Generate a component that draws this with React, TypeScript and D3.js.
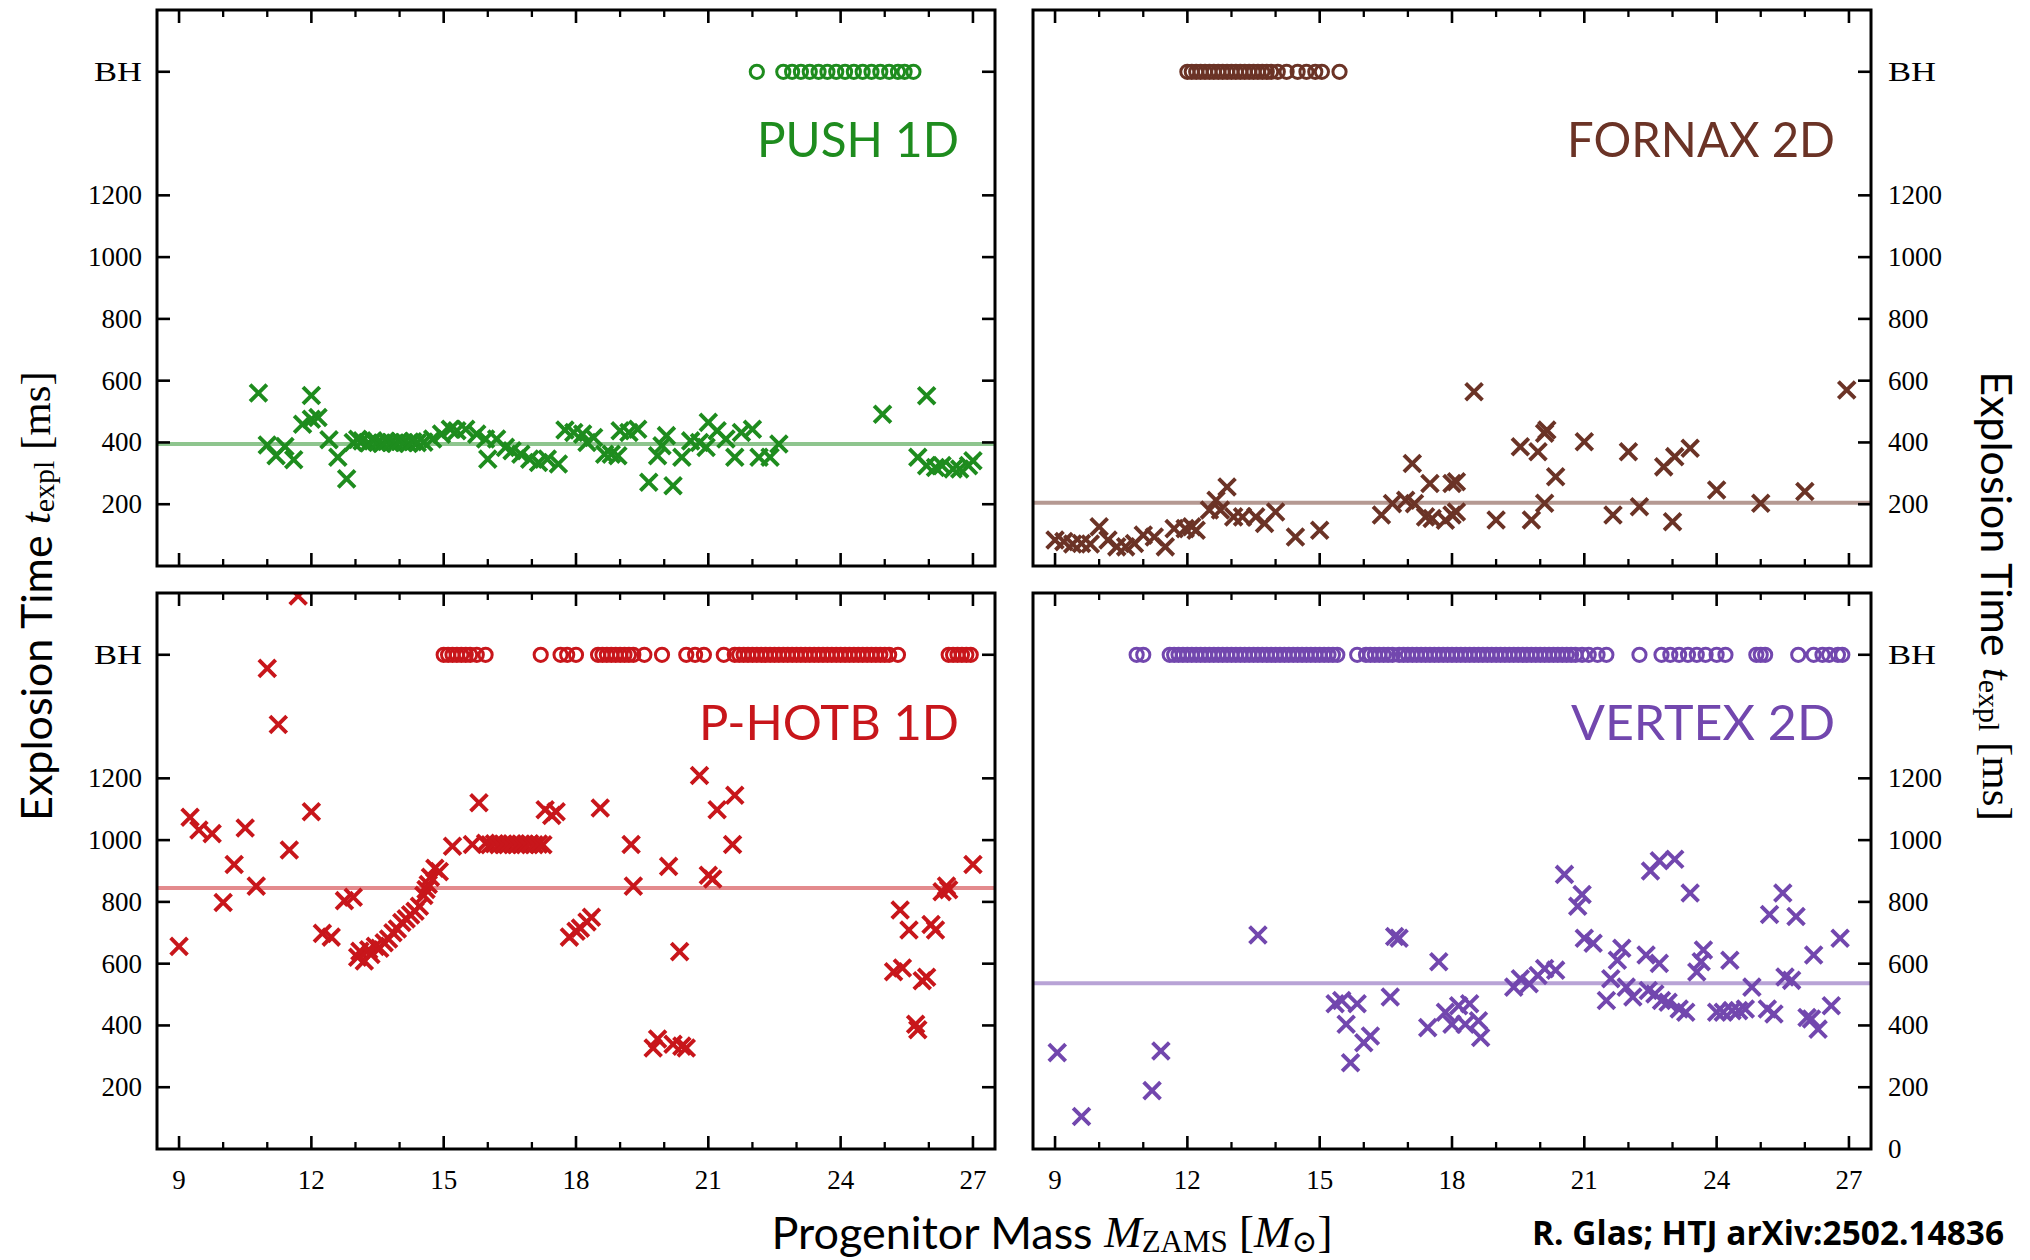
import React from 'react';
import * as d3 from 'd3';

// ---- layout --------------------------------------------------------------
const W = 2030;
const H = 1260;
const PW = 838;
const PH = 556;
const COL_X = [157, 1033];
const ROW_Y = [10, 593];

// ---- axes ----------------------------------------------------------------
const massDomain = [8.5, 27.5];
const timeDomain = [0, 1800];
const massMajor = [9, 12, 15, 18, 21, 24, 27];
const massMinor = [10, 11, 13, 14, 16, 17, 19, 20, 22, 23, 25, 26];
const timeTicks = [200, 400, 600, 800, 1000, 1200];
const BH_LEVEL = 1600;

// ---- colours -------------------------------------------------------------
const GREEN = '#1e8c1e';
const BROWN = '#6b3326';
const RED = '#c8161b';
const PURPLE = '#7247ae';

// ---- PUSH 1D -------------------------------------------------------------
const pushExploded: [number, number][] = [
  [10.8, 560], [11.0, 392], [11.2, 357], [11.4, 387], [11.6, 344], [11.8, 459],
  [12.0, 552], [12.0, 475], [12.15, 481], [12.4, 409], [12.6, 352], [12.8, 282],
  [12.95, 400], [13.05, 410], [13.15, 405], [13.3, 398], [13.4, 405], [13.5, 400],
  [13.6, 397], [13.7, 403], [13.8, 400], [13.9, 398], [14.0, 404], [14.1, 400],
  [14.2, 397], [14.3, 402], [14.4, 399], [14.55, 401], [14.75, 411], [14.95, 427],
  [15.15, 443], [15.3, 438], [15.5, 443], [15.75, 427], [15.95, 411], [16.0, 346],
  [16.2, 411], [16.4, 384], [16.55, 373], [16.75, 362], [16.95, 346], [17.15, 335],
  [17.35, 346], [17.6, 330], [17.75, 440], [17.95, 432], [18.15, 427], [18.25, 400],
  [18.4, 416], [18.65, 362], [18.8, 362], [18.95, 357], [19.0, 438], [19.2, 432],
  [19.4, 443], [19.65, 271], [19.85, 357], [19.95, 389], [20.05, 422], [20.2, 260],
  [20.4, 352], [20.6, 405], [20.8, 400], [20.95, 384], [21.0, 465], [21.2, 438],
  [21.4, 411], [21.6, 352], [21.75, 432], [22.0, 443], [22.15, 352], [22.4, 352],
  [22.6, 395], [24.95, 491], [25.95, 551], [25.75, 352], [25.95, 325], [26.15, 319],
  [26.3, 325], [26.55, 314], [26.7, 314], [26.9, 325], [27.0, 341],
];
const pushBH = [
  22.1, 22.7, 22.9, 23.1, 23.3, 23.5, 23.7, 23.9, 24.1, 24.3, 24.5, 24.7, 24.9,
  25.1, 25.3, 25.45, 25.65,
];
const pushMean = 395;

// ---- FORNAX 2D -----------------------------------------------------------
const fornaxExploded: [number, number][] = [
  [9.0, 84], [9.2, 79], [9.4, 71], [9.6, 73], [9.8, 71], [10.0, 127], [10.2, 84],
  [10.4, 62], [10.6, 62], [10.8, 73], [11.0, 100], [11.25, 94], [11.5, 62],
  [11.7, 121], [11.95, 121], [12.1, 127], [12.2, 116], [12.5, 181], [12.65, 213],
  [12.75, 181], [12.9, 256], [13.05, 159], [13.25, 159], [13.55, 159], [13.75, 138],
  [14.0, 175], [14.45, 94], [15.0, 116], [16.4, 165], [16.65, 202], [16.95, 213],
  [17.1, 332], [17.15, 202], [17.4, 159], [17.5, 267], [17.55, 154], [17.85, 148],
  [18.0, 267], [18.0, 165], [18.1, 273], [18.1, 175], [18.5, 564], [19.0, 149],
  [19.55, 386], [19.8, 149], [19.95, 370], [20.1, 203], [20.1, 430], [20.15, 440],
  [20.35, 289], [21.0, 402], [21.65, 165], [22.0, 370], [22.25, 192], [22.8, 321],
  [23.0, 143], [23.05, 354], [23.4, 381], [24.0, 246], [25.0, 203], [26.0, 241],
  [26.95, 570],
];
const fornaxBH = [
  12.0, 12.1, 12.2, 12.3, 12.4, 12.5, 12.6, 12.7, 12.8, 12.9, 13.0, 13.1, 13.2,
  13.3, 13.4, 13.5, 13.6, 13.7, 13.8, 13.9, 14.05, 14.25, 14.5, 14.7, 14.9, 15.05,
  15.45,
];
const fornaxMean = 205;

// ---- P-HOTB 1D -----------------------------------------------------------
const photbExploded: [number, number][] = [
  [9.0, 656], [9.25, 1074], [9.45, 1033], [9.75, 1021], [10.0, 798], [10.25, 921],
  [10.5, 1039], [10.75, 851], [11.0, 1556], [11.25, 1374], [11.5, 968], [11.7, 1790],
  [12.0, 1092], [12.25, 698], [12.45, 686], [12.75, 804], [12.95, 815],
  [13.05, 621], [13.1, 640], [13.2, 609], [13.3, 645], [13.35, 630], [13.45, 656],
  [13.55, 650], [13.65, 668], [13.75, 680], [13.85, 700], [13.95, 712], [14.05, 733],
  [14.15, 745], [14.25, 758], [14.35, 770], [14.45, 786], [14.55, 821], [14.6, 840],
  [14.65, 856], [14.7, 880], [14.8, 909], [14.9, 898],
  [15.2, 980], [15.65, 986], [15.8, 1121],
  [15.95, 990], [16.05, 985], [16.15, 988], [16.25, 985], [16.35, 987], [16.45, 985],
  [16.55, 988], [16.65, 985], [16.75, 987], [16.85, 985], [16.95, 988], [17.05, 985],
  [17.15, 987], [17.25, 985],
  [17.3, 1098], [17.45, 1080], [17.55, 1092],
  [17.85, 686], [18.0, 705], [18.1, 715], [18.25, 735], [18.35, 750], [18.55, 1104],
  [19.25, 986], [19.3, 851], [19.75, 327], [19.85, 356], [20.1, 915], [20.2, 339],
  [20.35, 639], [20.4, 333], [20.5, 327], [20.8, 1209], [21.0, 886], [21.1, 874],
  [21.2, 1098], [21.55, 986], [21.6, 1145],
  [25.2, 574], [25.35, 774], [25.4, 586], [25.55, 709], [25.7, 404], [25.75, 386],
  [25.85, 545], [25.95, 556], [26.05, 727], [26.15, 709], [26.3, 833], [26.4, 851],
  [26.45, 839], [27.0, 921],
];
const photbBH = [
  15.0, 15.1, 15.2, 15.3, 15.4, 15.5, 15.6, 15.75, 15.95,
  17.2, 17.65, 17.8, 18.0,
  18.5, 18.6, 18.7, 18.8, 18.9, 19.0, 19.1, 19.2, 19.3, 19.55, 19.95,
  20.5, 20.7, 20.9, 21.35,
  21.6, 21.7, 21.8, 21.9, 22.0, 22.1, 22.2, 22.3, 22.4, 22.5, 22.6, 22.7, 22.8,
  22.9, 23.0, 23.1, 23.2, 23.3, 23.4, 23.5, 23.6, 23.7, 23.8, 23.9, 24.0, 24.1,
  24.2, 24.3, 24.4, 24.5, 24.6, 24.7, 24.8, 24.9, 25.0, 25.1, 25.3,
  26.45, 26.55, 26.65, 26.75, 26.85, 26.95,
];
const photbMean = 845;

// ---- VERTEX 2D -----------------------------------------------------------
const vertexExploded: [number, number][] = [
  [9.05, 312], [9.6, 105], [11.2, 189], [11.4, 317], [13.6, 693], [15.35, 470],
  [15.5, 481], [15.6, 404], [15.7, 279], [15.85, 470], [16.0, 344], [16.15, 366],
  [16.6, 492], [16.7, 688], [16.8, 682], [17.45, 393], [17.7, 606], [17.85, 443],
  [18.0, 404], [18.15, 464], [18.3, 404], [18.4, 470], [18.6, 415], [18.65, 361],
  [19.4, 524], [19.55, 551], [19.75, 535], [19.95, 562], [20.1, 584], [20.35, 579],
  [20.55, 889], [20.85, 786], [20.95, 824], [21.0, 682], [21.2, 666], [21.5, 481],
  [21.6, 551], [21.75, 611], [21.85, 650], [21.95, 524], [22.1, 492], [22.4, 628],
  [22.45, 513], [22.5, 900], [22.6, 502], [22.7, 601], [22.7, 933], [22.75, 481],
  [22.9, 475], [23.05, 938], [23.15, 453], [23.3, 443], [23.4, 829], [23.55, 573],
  [23.65, 606], [23.7, 644], [24.0, 443], [24.15, 443], [24.3, 611], [24.35, 448],
  [24.5, 448], [24.65, 453], [24.8, 524], [25.15, 453], [25.2, 759], [25.3, 437],
  [25.5, 829], [25.55, 557], [25.7, 546], [25.8, 753], [26.05, 426], [26.15, 421],
  [26.2, 628], [26.3, 388], [26.6, 464], [26.8, 682],
];
const vertexBH = [
  10.85, 11.0,
  11.6, 11.7, 11.8, 11.9, 12.0, 12.1, 12.2, 12.3, 12.4, 12.5, 12.6, 12.7, 12.8,
  12.9, 13.0, 13.1, 13.2, 13.3, 13.4, 13.5, 13.6, 13.7, 13.8, 13.9, 14.0, 14.1,
  14.2, 14.3, 14.4, 14.5, 14.6, 14.7, 14.8, 14.9, 15.0, 15.1, 15.2, 15.3, 15.4,
  15.85, 16.05, 16.15, 16.25, 16.35, 16.45, 16.55, 16.65,
  16.8, 16.9, 17.0, 17.1, 17.2, 17.3, 17.4, 17.5, 17.6, 17.7, 17.8, 17.9, 18.0,
  18.1, 18.2, 18.3, 18.4, 18.5, 18.6, 18.7, 18.8, 18.9, 19.0, 19.1, 19.2, 19.3,
  19.4, 19.5, 19.6, 19.7, 19.8, 19.9, 20.0, 20.1, 20.2, 20.3, 20.4, 20.5, 20.6,
  20.7, 20.8,
  20.95, 21.1, 21.3, 21.5, 22.25, 22.75, 22.95, 23.15, 23.35, 23.55, 23.75, 24.0,
  24.2, 24.9, 25.0, 25.1, 25.85, 26.2, 26.4, 26.55, 26.75, 26.85,
];
const vertexMean = 537;

// ---- panel table ---------------------------------------------------------
const panels = [
  { key: 'push', label: 'PUSH 1D', color: GREEN, exploded: pushExploded, bh: pushBH, mean: pushMean, col: 0, row: 0, labelWidth: 202, showZero: false },
  { key: 'fornax', label: 'FORNAX 2D', color: BROWN, exploded: fornaxExploded, bh: fornaxBH, mean: fornaxMean, col: 1, row: 0, labelWidth: 268, showZero: false },
  { key: 'photb', label: 'P-HOTB 1D', color: RED, exploded: photbExploded, bh: photbBH, mean: photbMean, col: 0, row: 1, labelWidth: 260, showZero: false },
  { key: 'vertex', label: 'VERTEX 2D', color: PURPLE, exploded: vertexExploded, bh: vertexBH, mean: vertexMean, col: 1, row: 1, labelWidth: 264, showZero: true },
];

const SERIF = "'Liberation Serif', 'DejaVu Serif', serif";
const SANS = "Lato, 'Open Sans', 'DejaVu Sans', sans-serif";
const TICK_FONT = 27;
const MAJOR = 13;
const MINOR = 7;
const CROSS = 8.4;

function Panel({ p }: { p: typeof panels[number] }) {
  const x0 = COL_X[p.col];
  const y0 = ROW_Y[p.row];
  const x = d3.scaleLinear().domain(massDomain).range([x0, x0 + PW]);
  const y = d3.scaleLinear().domain(timeDomain).range([y0 + PH, y0]);
  const clipId = `clip-${p.key}`;
  const isLeft = p.col === 0;
  const isBottom = p.row === 1;
  const yTickVals = [...timeTicks, BH_LEVEL];
  const crossPath = `M${-CROSS},${-CROSS}L${CROSS},${CROSS}M${-CROSS},${CROSS}L${CROSS},${-CROSS}`;

  return (
    <g>
      <defs>
        <clipPath id={clipId}>
          <rect x={x0} y={y0} width={PW} height={PH} />
        </clipPath>
      </defs>
      <g clipPath={`url(#${clipId})`}>
        <line x1={x0} x2={x0 + PW} y1={y(p.mean)} y2={y(p.mean)} stroke={p.color} strokeOpacity={0.5} strokeWidth={4} />
        {p.exploded.map(([m, t], i) => (
          <path key={`x${i}`} d={crossPath} transform={`translate(${x(m)},${y(t)})`} stroke={p.color} strokeWidth={3.9} fill="none" />
        ))}
        {p.bh.map((m, i) => (
          <circle key={`o${i}`} cx={x(m)} cy={y(BH_LEVEL)} r={6.6} stroke={p.color} strokeWidth={3} fill="none" />
        ))}
      </g>

      {/* mass ticks, top and bottom, pointing inward */}
      {massMajor.map((m) => (
        <g key={`mj${m}`} stroke="#000" strokeWidth={2.6}>
          <line x1={x(m)} x2={x(m)} y1={y0 + PH} y2={y0 + PH - MAJOR} />
          <line x1={x(m)} x2={x(m)} y1={y0} y2={y0 + MAJOR} />
        </g>
      ))}
      {massMinor.map((m) => (
        <g key={`mn${m}`} stroke="#000" strokeWidth={2.3}>
          <line x1={x(m)} x2={x(m)} y1={y0 + PH} y2={y0 + PH - MINOR} />
          <line x1={x(m)} x2={x(m)} y1={y0} y2={y0 + MINOR} />
        </g>
      ))}

      {/* time ticks */}
      {yTickVals.map((v) => (
        <g key={`yt${v}`} stroke="#000" strokeWidth={2.6}>
          <line x1={x0 + PW} x2={x0 + PW - MAJOR} y1={y(v)} y2={y(v)} />
          {isLeft && <line x1={x0} x2={x0 + MAJOR} y1={y(v)} y2={y(v)} />}
        </g>
      ))}

      {/* time tick labels */}
      {yTickVals.map((v) => (
        <text
          key={`yl${v}`}
          x={isLeft ? x0 - 15 : x0 + PW + 17}
          y={y(v)}
          textAnchor={isLeft ? 'end' : 'start'}
          dominantBaseline="central"
          fontFamily={SERIF}
          fontSize={TICK_FONT}
          fill="#000"
          {...(v === BH_LEVEL ? { textLength: 48, lengthAdjust: 'spacingAndGlyphs' } : {})}
        >
          {v === BH_LEVEL ? 'BH' : String(v)}
        </text>
      ))}
      {p.showZero && (
        <text x={x0 + PW + 17} y={y(0)} dominantBaseline="central" fontFamily={SERIF} fontSize={TICK_FONT}>
          0
        </text>
      )}

      {/* mass tick labels on the lower row */}
      {isBottom &&
        massMajor.map((m) => (
          <text key={`xl${m}`} x={x(m)} y={y0 + PH + 31} textAnchor="middle" dominantBaseline="central" fontFamily={SERIF} fontSize={TICK_FONT}>
            {m}
          </text>
        ))}

      <rect x={x0} y={y0} width={PW} height={PH} fill="none" stroke="#000" strokeWidth={3} />

      <text
        x={x0 + PW - 36}
        y={y0 + 147}
        textAnchor="end"
        fontFamily={SANS}
        fontSize={49}
        fill={p.color}
        textLength={p.labelWidth}
        lengthAdjust="spacingAndGlyphs"
      >
        {p.label}
      </text>
    </g>
  );
}

function TimeLabel({ cx, cy, angle }: { cx: number; cy: number; angle: number }) {
  return (
    <text transform={`translate(${cx},${cy}) rotate(${angle})`} textAnchor="middle" dominantBaseline="central" fontSize={43} fill="#000">
      <tspan fontFamily={SANS}>Explosion Time </tspan>
      <tspan fontFamily={SERIF} fontStyle="italic">t</tspan>
      <tspan fontFamily={SERIF} fontSize={30} dy={8}>expl</tspan>
      <tspan fontFamily={SERIF} dy={-8}> [ms]</tspan>
    </text>
  );
}

export default function App() {
  return (
    <svg width={W} height={H} viewBox={`0 0 ${W} ${H}`} style={{ position: 'absolute', left: 0, top: 0, background: '#fff' }}>
      <rect width={W} height={H} fill="#fff" />
      {panels.map((p) => (
        <Panel key={p.key} p={p} />
      ))}

      <TimeLabel cx={35} cy={596} angle={-90} />
      <TimeLabel cx={1998} cy={596} angle={90} />

      <text x={1052} y={1232} textAnchor="middle" dominantBaseline="central" fontSize={45} fill="#000">
        <tspan fontFamily={SANS}>Progenitor Mass </tspan>
        <tspan fontFamily={SERIF} fontStyle="italic">M</tspan>
        <tspan fontFamily={SERIF} fontSize={31} dy={9}>ZAMS</tspan>
        <tspan fontFamily={SERIF} dy={-9}> [</tspan>
        <tspan fontFamily={SERIF} fontStyle="italic">M</tspan>
        <tspan fontFamily={SERIF} fontSize={31} dy={9}>⊙</tspan>
        <tspan fontFamily={SERIF} dy={-9}>]</tspan>
      </text>

      <text
        x={1532}
        y={1245}
        fontFamily="'Open Sans', 'Liberation Sans', sans-serif"
        fontWeight={700}
        fontSize={34}
        fill="#000"
        textLength={472}
        lengthAdjust="spacingAndGlyphs"
      >
        R. Glas; HTJ arXiv:2502.14836
      </text>
    </svg>
  );
}
